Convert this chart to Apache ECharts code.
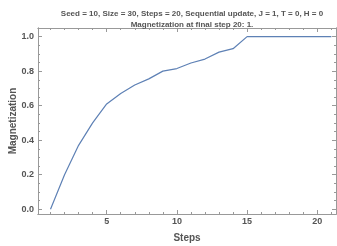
<!DOCTYPE html>
<html>
<head>
<meta charset="utf-8">
<script src="https://cdn.jsdelivr.net/npm/echarts@6/dist/echarts.min.js"></script>
<style>
  html, body { margin: 0; padding: 0; background: #fff; }
  #chart { width: 337px; height: 246px; }
</style>
</head>
<body>
<div id="chart"></div>
<script>
// data
const steps = [1, 2, 3, 4, 5, 6, 7, 8, 9, 10, 11, 12, 13, 14, 15, 16, 17, 18, 19, 20, 21];
const magnetization = [0, 0.2, 0.37, 0.5, 0.61, 0.67, 0.72, 0.755, 0.8, 0.815, 0.847, 0.87, 0.91, 0.93, 1, 1, 1, 1, 1, 1, 1];
const xMajorTicks = [5, 10, 15, 20];
const xMinorTicks = [1, 2, 3, 4, 6, 7, 8, 9, 11, 12, 13, 14, 16, 17, 18, 19, 21];
const yMajorTicks = [0, 0.2, 0.4, 0.6, 0.8, 1];
const yMinorTicks = [0.05, 0.1, 0.15, 0.25, 0.3, 0.35, 0.45, 0.5, 0.55, 0.65, 0.7, 0.75, 0.85, 0.9, 0.95, 1.05];
const titleLines = [
  'Seed = 10, Size = 30, Steps = 20, Sequential update, J = 1, T = 0, H = 0',
  'Magnetization at final step 20: 1.'
];

const frameColor = '#999';
const textColor = '#555';
const fontFamily = 'Liberation Sans, Arial, sans-serif';

function tickAxis (pos, ticks, len, labels, extra) {
  let ax = {
    type: 'value',
    position: pos,
    axisLine: { show: true, onZero: false, lineStyle: { color: frameColor, width: 1 } },
    axisTick: { show: true, inside: true, length: len, customValues: ticks, lineStyle: { color: frameColor } },
    axisLabel: labels
      ? { show: true, customValues: ticks, color: textColor, fontSize: 9, fontWeight: 'bold', fontFamily: fontFamily }
      : { show: false },
    splitLine: { show: false }
  };
  return Object.assign(ax, extra);
}

const xRange = { min: 0.11, max: 21.33 };
const yRange = { min: -0.028, max: 1.05 };

let chart = echarts.init(document.getElementById('chart'), null, { renderer: 'canvas' });

chart.setOption({
  animation: false,
  title: titleLines.map((t, i) => ({
    text: t,
    left: 187,
    top: 5 + i * 11,
    textAlign: 'center',
    textStyle: { fontSize: 8, fontWeight: 'bold', color: textColor, fontFamily: fontFamily }
  })),
  grid: { left: 38, right: 1, top: 28, bottom: 32, outerBoundsMode: 'none', containLabel: false },
  xAxis: [
    tickAxis('bottom', xMajorTicks, 4, true, Object.assign({
      name: 'Steps', nameLocation: 'middle', nameGap: 19, nameMoveOverlap: false,
      nameTextStyle: { color: textColor, fontSize: 10, fontWeight: 'bold', fontFamily: fontFamily },
      axisLabel: { show: true, customValues: xMajorTicks, color: textColor, fontSize: 9, fontWeight: 'bold', fontFamily: fontFamily, margin: 3 }
    }, xRange)),
    tickAxis('bottom', xMinorTicks, 2, false, xRange),
    tickAxis('top', xMajorTicks, 4, false, xRange),
    tickAxis('top', xMinorTicks, 2, false, xRange)
  ],
  yAxis: [
    tickAxis('left', yMajorTicks, 4, true, Object.assign({
      name: 'Magnetization', nameLocation: 'middle', nameGap: 20, nameMoveOverlap: false,
      nameTextStyle: { color: textColor, fontSize: 10, fontWeight: 'bold', fontFamily: fontFamily },
      axisLabel: {
        show: true, customValues: yMajorTicks, color: textColor, fontSize: 9, fontWeight: 'bold',
        fontFamily: fontFamily, margin: 4, formatter: v => v.toFixed(1)
      }
    }, yRange)),
    tickAxis('left', yMinorTicks, 2, false, yRange),
    tickAxis('right', yMajorTicks, 4, false, yRange),
    tickAxis('right', yMinorTicks, 2, false, yRange)
  ],
  series: [{
    type: 'line',
    xAxisIndex: 0,
    yAxisIndex: 0,
    data: steps.map((s, i) => [s, magnetization[i]]),
    showSymbol: false,
    lineStyle: { color: '#5E81B5', width: 1.2 },
    itemStyle: { color: '#5E81B5' }
  }]
});
</script>
</body>
</html>
